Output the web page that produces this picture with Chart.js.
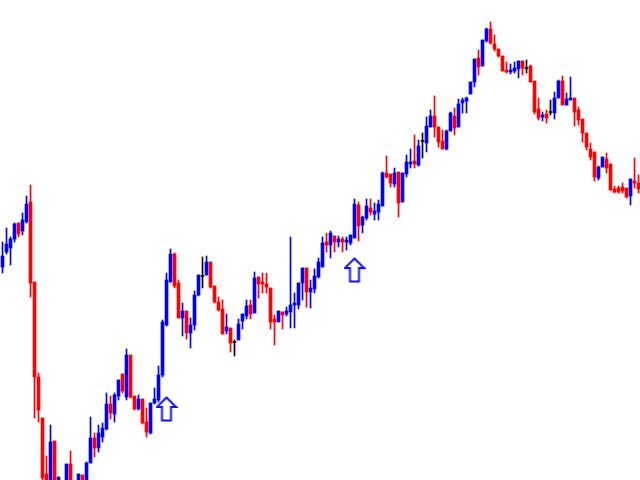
<!DOCTYPE html>
<html><head><meta charset="utf-8">
<title>candles</title>
<script src="https://cdn.jsdelivr.net/npm/chart.js@4.4.0/dist/chart.umd.min.js"></script>
<style>
  html, body { margin: 0; padding: 0; background: #fff; }
  #wrap { width: 640px; height: 480px; }
</style>
</head>
<body>
<div id="wrap"><canvas id="chart"></canvas></div>
<script>
// OHLC values (160 candles)
const opens = [213,228,232,241,257,249,258,278,198,103, 62,6,-8,39,-10,-4,-8,16,-10,-8,
  5,-4,17,42,32,43,51,76,66,84, 106,83,125,84,71,81,58,47,77,80,
  105,155,198,226,197,162,169,147,155,185, 204,205,218,194,178,171,149,152,138,140,
  159,164,175,167,203,198,196,192,161,158, 168,166,168,175,175,197,212,188,191,203,
  213,238,235,244,238,241,238,237,242,275, 255,262,272,266,268,274,307,306,296,308,
  278,306,316,319,315,339,337,353,364,353, 339,331,349,364,353,377,379,386,398,422,
  414,439,451,436,431,424,410,408,409,411, 419,412,414,399,371,363,366,368,367,382,
  399,375,380,382,370,361,347,331,328,302, 313,321,316,291,292,293,292,284,299,297];
const highs = [238,252,243,257,257,267,284,295,198,107, 62,24,55,39,3,-2,16,29,-1,6,
  5,18,63,47,55,57,87,84,87,100, 106,131,125,84,85,81,72,77,92,114,
  160,207,231,227,200,177,169,162,189,205, 223,224,218,194,183,180,166,152,140,161,
  166,180,180,208,203,207,207,192,165,169, 168,173,243,187,197,212,212,200,211,222,
  243,247,249,244,244,243,243,245,281,278, 264,281,281,277,280,308,324,306,312,308,
  307,325,331,345,340,347,363,370,384,353, 350,350,368,372,381,382,383,398,421,430,
  440,452,458,445,431,424,418,416,418,419, 419,420,415,399,382,368,370,380,388,400,
  404,387,403,382,373,361,347,337,328,314, 323,327,316,294,294,297,292,301,322,305];
const lows = [207,226,215,238,243,245,257,183,62,58, -2,-12,-15,-16,-15,-18,-14,-10,-14,-12,
  -10,-8,17,23,28,38,50,61,58,80, 87,80,82,70,70,56,43,46,76,78,
  103,154,198,192,162,144,141,132,150,184, 192,205,192,177,169,146,146,128,124,140,
  151,161,161,167,182,187,187,151,135,158, 151,164,152,152,171,180,173,172,187,202,
  213,228,222,228,233,228,230,235,242,239, 247,260,265,260,260,274,302,293,293,263,
  278,303,312,312,314,322,328,353,343,333, 331,330,349,345,353,367,367,386,393,405,
  414,438,436,429,423,409,407,406,407,402, 405,407,398,366,360,359,357,365,361,382,
  375,375,380,354,355,338,330,320,299,300, 313,307,290,287,287,287,282,275,292,287];
const closes = [224,236,241,256,246,260,276,197,103,70, 2,-6,38,-10,3,-12,16,-5,-2,6,
  -6,17,42,32,47,52,76,67,85,100, 89,125,83,71,81,57,48,77,81,105,
  158,200,226,194,162,169,147,155,185,205, 204,218,193,178,170,146,153,137,138,156,
  166,174,166,202,196,196,193,158,158,169, 165,169,175,177,197,212,188,192,204,218,
  237,235,247,238,241,238,240,245,276,254, 263,274,268,269,276,307,303,297,307,277,
  307,318,318,316,334,339,354,364,353,338, 331,349,367,352,376,380,382,398,421,413,
  440,451,437,431,424,409,408,410,412,419, 412,412,398,368,362,365,362,368,382,399,
  375,381,382,368,360,347,333,323,303,313, 323,312,290,288,288,289,283,301,297,291];

// signal arrows: candle index and level
const arrowIdx = [41, 88];
const arrowLevel = [71, 210];

const UP = '#0000ff';
const DOWN = '#ff0000';
const FLAT = '#000000';

const colors = opens.map((o, i) => closes[i] > o ? UP : (closes[i] < o ? DOWN : FLAT));

// body and wick as floating bars
const bodies = opens.map((o, i) => {
  const c = closes[i];
  if (o === c) return { x: i, y: [o - 0.5, o + 0.5] };
  return { x: i, y: [Math.min(o, c), Math.max(o, c)] };
});
const wicks = highs.map((h, i) => ({ x: i, y: [lows[i], h] }));
const arrows = arrowIdx.map((a, k) => ({ x: a, y: arrowLevel[k] }));

// outlined up arrow icon
function makeArrow() {
  const c = document.createElement('canvas');
  c.width = 22; c.height = 26;
  const g = c.getContext('2d');
  g.beginPath();
  g.moveTo(11, 1.5);
  g.lineTo(20.5, 11);
  g.lineTo(15.5, 11);
  g.lineTo(15.5, 24.5);
  g.lineTo(6.5, 24.5);
  g.lineTo(6.5, 11);
  g.lineTo(1.5, 11);
  g.closePath();
  g.fillStyle = '#ffffff';
  g.fill();
  g.strokeStyle = '#1010ff';
  g.lineWidth = 2;
  g.stroke();
  return c;
}

new Chart(document.getElementById('chart'), {
  type: 'bar',
  data: {
    datasets: [
      {
        type: 'line',
        data: arrows,
        showLine: false,
        pointStyle: makeArrow(),
        order: -1,
      },
      {
        data: bodies,
        backgroundColor: colors,
        barThickness: 3,
        grouped: false,
        borderWidth: 0,
        order: 0,
      },
      {
        data: wicks,
        backgroundColor: colors,
        barThickness: 1,
        grouped: false,
        borderWidth: 0,
        order: 1,
      },
    ]
  },
  options: {
    responsive: true,
    maintainAspectRatio: false,
    animation: false,
    layout: { padding: 0, autoPadding: false },
    plugins: { legend: { display: false }, tooltip: { enabled: false } },
    scales: {
      x: { type: 'linear', min: -0.625, max: 159.375, display: false, offset: false },
      y: { min: 0, max: 480, display: false }
    }
  }
});
</script>
</body>
</html>
